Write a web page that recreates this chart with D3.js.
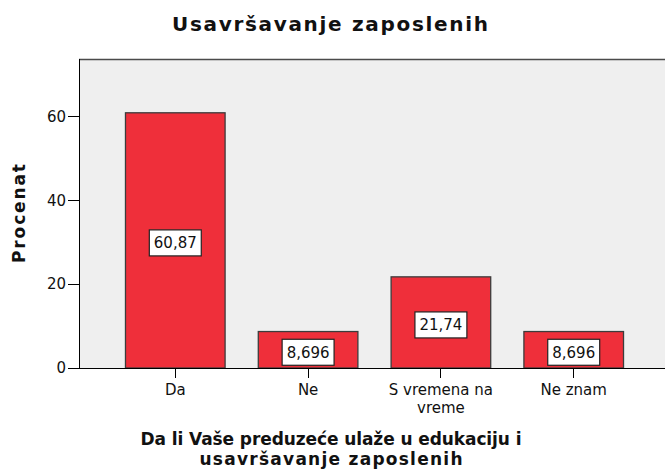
<!DOCTYPE html>
<meta charset="utf-8">
<style>
  body { margin: 0; background: white; }
  svg { display: block; background-color: white; }
  .axis path, .axis line { fill: none; stroke: black; shape-rendering: crispEdges; }
  .axis text { font-family: "DejaVu Sans", sans-serif; font-size: 15px; fill: #111; }
  .lbl text { font-family: "DejaVu Sans", sans-serif; font-size: 15px; fill: #111; }
  .ttl { font-family: "DejaVu Sans", sans-serif; font-weight: bold; fill: #111; }
</style>
<div id="chart"></div>
<script src="https://d3js.org/d3.v7.min.js"></script>
<script>
// data
var categories = ["Da", "Ne", "S vremena na vreme", "Ne znam"];
var percents = [60.87, 8.696, 21.74, 8.696];
var yTicks = [0, 20, 40, 60];
var chartTitle = "Usavršavanje zaposlenih";
var xTitleLines = ["Da li Vaše preduzeće ulaže u edukaciju i", "usavršavanje zaposlenih"];
var yTitle = "Procenat";

var W = 665, H = 476;
var plot = {left: 79, right: 670, top: 59, bottom: 368};

var svg = d3.select("#chart").append("svg")
    .attr("width", W)
    .attr("height", H);

var x = d3.scaleBand()
    .domain(categories)
    .range([plot.left, plot.right])
    .paddingInner(0.25)
    .paddingOuter(0.35);

var y = d3.scaleLinear()
    .domain([0, 73.7])
    .range([plot.bottom, plot.top]);

// plot background + frame
svg.append("rect")
    .attr("x", plot.left).attr("y", plot.top)
    .attr("width", plot.right - plot.left)
    .attr("height", plot.bottom - plot.top)
    .attr("fill", "#efefef");
svg.append("line")
    .attr("x1", plot.left).attr("x2", plot.right)
    .attr("y1", plot.top + 0.5).attr("y2", plot.top + 0.5)
    .attr("stroke", "#4a4a4a").attr("stroke-width", 1.5);

// bars
svg.append("g").selectAll("rect")
    .data(categories)
    .join("rect")
    .attr("x", function(d) { return x(d); })
    .attr("y", function(d, i) { return y(percents[i]); })
    .attr("width", x.bandwidth())
    .attr("height", function(d, i) { return y(0) - y(percents[i]); })
    .attr("fill", "#ef2f3a")
    .attr("stroke", "#3c3c3c")
    .attr("stroke-width", 1.3);

// axes
svg.append("g")
    .attr("class", "axis")
    .attr("transform", "translate(" + plot.left + ",0)")
    .call(d3.axisLeft(y).tickValues(yTicks).tickSize(11).tickPadding(2).tickSizeOuter(0))
    .call(function(g) { g.select(".domain").attr("d", "M0," + plot.top + "V" + plot.bottom); });

var xAxis = svg.append("g")
    .attr("class", "axis")
    .attr("transform", "translate(0," + plot.bottom + ")")
    .call(d3.axisBottom(x).tickSize(10).tickPadding(6).tickSizeOuter(0));
xAxis.select(".domain").attr("d", "M" + plot.left + ",0H" + plot.right);

// wrap long category labels like the original
xAxis.selectAll(".tick text").each(function(d) {
  var t = d3.select(this), words = d.split(" "), line = [], lines = [];
  words.forEach(function(w) {
    var test = line.concat([w]).join(" ");
    t.text(test);
    if (line.length && this.getComputedTextLength() > 110) {
      lines.push(line.join(" "));
      line = [w];
    } else {
      line.push(w);
    }
  }, this);
  lines.push(line.join(" "));
  t.text(null);
  lines.forEach(function(l, k) {
    t.append("tspan").attr("x", 0).attr("dy", k === 0 ? "0.71em" : "18px").text(l);
  });
});

// value labels
var fmt = function(v) { return d3.format(".4r")(v).replace(".", ","); };
var lbl = svg.append("g").attr("class", "lbl").selectAll("g")
    .data(categories)
    .join("g")
    .attr("transform", function(d, i) {
      return "translate(" + (x(d) + x.bandwidth() / 2) + "," + (y(percents[i] / 2) + 2.5) + ")";
    });
lbl.append("rect")
    .attr("fill", "white")
    .attr("stroke", "#222")
    .attr("stroke-width", 1.2);
lbl.append("text")
    .attr("text-anchor", "middle")
    .attr("dy", "0.36em")
    .text(function(d, i) { return fmt(percents[i]); });
lbl.each(function() {
  var g = d3.select(this), w = g.select("text").node().getComputedTextLength() + 9;
  g.select("rect").attr("x", -w / 2).attr("y", -13).attr("width", w).attr("height", 26);
});

// titles
svg.append("text")
    .attr("class", "ttl")
    .attr("x", 330).attr("y", 31)
    .attr("text-anchor", "middle")
    .attr("font-size", 20)
    .attr("textLength", 316)
    .attr("lengthAdjust", "spacing")
    .text(chartTitle);

svg.append("text")
    .attr("class", "ttl")
    .attr("transform", "translate(25," + ((plot.top + plot.bottom) / 2) + ") rotate(-90)")
    .attr("text-anchor", "middle")
    .attr("font-size", 17)
    .attr("textLength", 99)
    .attr("lengthAdjust", "spacing")
    .text(yTitle);

var xLens = [381, 263];
svg.append("g").selectAll("text")
    .data(xTitleLines)
    .join("text")
    .attr("class", "ttl")
    .attr("x", 331)
    .attr("y", function(d, i) { return 445 + i * 20; })
    .attr("text-anchor", "middle")
    .attr("font-size", 17)
    .attr("textLength", function(d, i) { return xLens[i]; })
    .attr("lengthAdjust", "spacing")
    .text(function(d) { return d; });
</script>
